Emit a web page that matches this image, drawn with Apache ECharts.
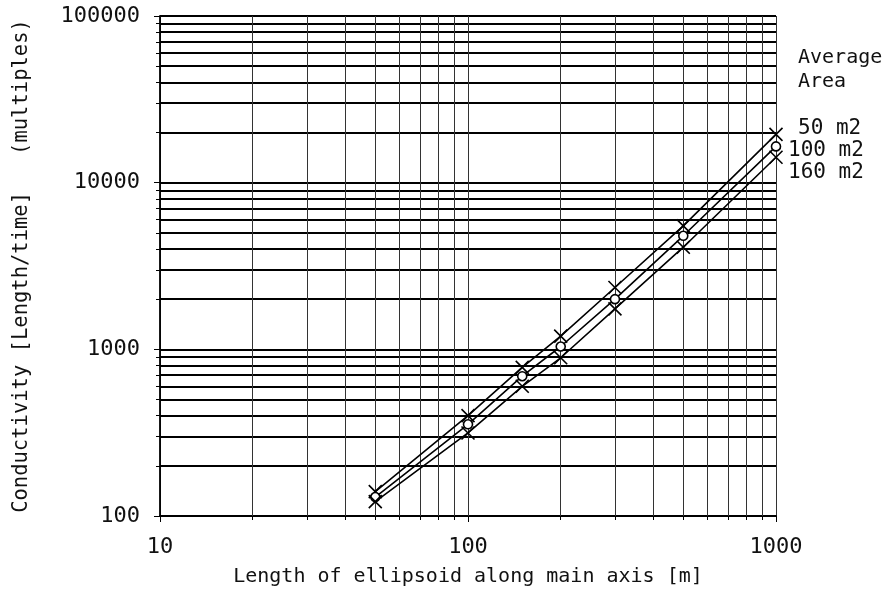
<!DOCTYPE html>
<html>
<head>
<meta charset="utf-8">
<script src="https://cdn.jsdelivr.net/npm/echarts@6/dist/echarts.min.js"></script>
<style>html,body{margin:0;padding:0;background:#fff}#c{width:888px;height:592px}</style>
</head>
<body>
<div id="c"></div>
<script>
const lengths = [50, 100, 150, 200, 300, 500, 1000];
const area50 = [140, 400, 780, 1200, 2350, 5500, 19500];
const area100 = [130, 355, 690, 1040, 2000, 4800, 16500];
const area160 = [122, 315, 600, 890, 1750, 4100, 14200];
const seriesNames = ['50 m2', '100 m2', '160 m2'];
const xGridValues = [20,30,40,50,60,70,80,90,100,200,300,400,500,600,700,800,900];
const yGridValues = [200,300,400,500,600,700,800,900,1000,2000,3000,4000,5000,6000,7000,8000,9000,10000,20000,30000,40000,50000,60000,70000,80000,90000];

const FONT = 'DejaVu Sans Mono';
const crossPath = 'path://M0,0L10,10M10,0L0,10';

function pts(vals){ return lengths.map((x,i)=>[x, vals[i]]); }

const chart = echarts.init(document.getElementById('c'), null, {renderer:'canvas'});
const gridMark = {
  silent: true,
  symbol: ['none','none'],
  label: {show:false},
  animation: false,
  data: [
    ...yGridValues.map(v=>({yAxis:v, lineStyle:{color:'#000', width:1.8, type:'solid'}})),
    ...xGridValues.map(v=>({xAxis:v, lineStyle:{color:'#333', width:1, type:'solid'}}))
  ]
};
function mkSeries(name, vals, sym, size, lblOffset){
  return {
    name, type:'line', data: pts(vals),
    symbol: sym, symbolSize: size,
    lineStyle:{color:'#000', width:1.6},
    itemStyle:{color:'#fff', borderColor:'#000', borderWidth:1.6},
    z: 5,
    endLabel:{show:true, formatter: name, fontFamily: FONT, fontSize: 21, color:'#111', offset: lblOffset},
    animation:false
  };
}
const series = [
  mkSeries(seriesNames[0], area50, crossPath, 13, [14,-6]),
  mkSeries(seriesNames[1], area100, 'circle', 9, [4,4]),
  mkSeries(seriesNames[2], area160, crossPath, 13, [4,15])
];
series[0].markLine = gridMark;

const fmt = v => String(Math.round(v));

chart.setOption({
  backgroundColor:'#fff',
  animation:false,
  grid:{left:160, right:112, top:16, bottom:74},
  xAxis:{
    type:'log', logBase:10, min:10, max:1000,
    name:'Length of ellipsoid along main axis [m]', nameLocation:'middle', nameGap:51,
    nameTextStyle:{fontFamily:FONT, fontSize:20, color:'#111'},
    axisLine:{show:true, lineStyle:{color:'#000', width:1.8}},
    axisTick:{show:true, inside:false, length:6, lineStyle:{color:'#000'}},
    minorTick:{show:true, splitNumber:9, length:4, lineStyle:{color:'#000'}},
    axisLabel:{fontFamily:FONT, fontSize:22, color:'#111', margin:20, formatter: fmt},
    splitLine:{show:true, lineStyle:{color:'#333', width:1}},
  },
  yAxis:{
    type:'log', logBase:10, min:100, max:100000,
    name:'Conductivity [Length/time]   (multiples)', nameLocation:'middle', nameGap:128,
    nameTextStyle:{fontFamily:FONT, fontSize:20.5, color:'#111'},
    axisLine:{show:true, lineStyle:{color:'#000', width:1.8}},
    axisTick:{show:true, inside:false, length:6, lineStyle:{color:'#000'}},
    minorTick:{show:true, splitNumber:9, length:4, lineStyle:{color:'#000'}},
    axisLabel:{fontFamily:FONT, fontSize:22, color:'#111', margin:20, formatter: fmt},
    splitLine:{show:true, lineStyle:{color:'#000', width:1.8}},
  },
  graphic:[
    {type:'text', left:798, top:46, style:{text:'Average\nArea', fontFamily:FONT, fontSize:20, lineHeight:24, fill:'#111'}}
  ],
  series
});
</script>
</body>
</html>
